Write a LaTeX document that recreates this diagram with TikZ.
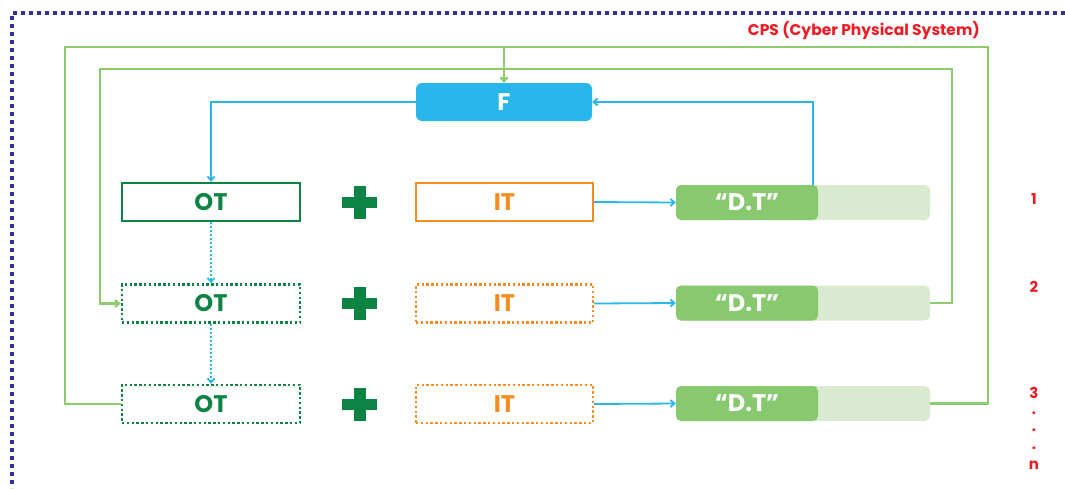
\documentclass[tikz,border=0pt]{standalone}
\usepackage{fontspec}
\setmainfont{Poppins}
\usepackage{tikz}
\usetikzlibrary{%
  arrows.meta,
  positioning
}
\definecolor{framenavy}{HTML}{2E3192}
\definecolor{cpsred}{HTML}{ED1C24}
\definecolor{otgreen}{HTML}{0D8443}
\definecolor{loopgreen}{HTML}{8CCB6E}
\definecolor{dtgreen}{HTML}{88C86F}
\definecolor{dtlight}{HTML}{D9EAD0}
\definecolor{fblue}{HTML}{29B6EA}
\definecolor{itorange}{HTML}{F68B1F}
\tikzset{
  every node/.style={inner sep=0pt, font=\fontsize{24}{24}\selectfont\bfseries},
  otbox/.style={draw=otgreen, line width=2.4pt, text=otgreen,
    minimum width=178, minimum height=38},
  itbox/.style={draw=itorange, line width=2.2pt, text=itorange,
    minimum width=177, minimum height=38},
  ghost/.style={dash pattern=on 2.4pt off 2.4pt},
  dtback/.style={fill=dtlight, rounded corners=5pt,
    minimum width=254, minimum height=35},
  dtfront/.style={fill=dtgreen, rounded corners=5pt, text=white,
    minimum width=142, minimum height=35},
  plusmark/.style={minimum width=35, minimum height=33,
    path picture={
      \fill [otgreen] ([xshift=-6pt]path picture bounding box.north)
        rectangle ([xshift=6pt]path picture bounding box.south);
      \fill [otgreen] ([yshift=-5.5pt]path picture bounding box.west)
        rectangle ([yshift=5.5pt]path picture bounding box.east);
    }},
  rowlabel/.style={text=cpsred, font=\fontsize{15}{15}\selectfont\bfseries},
}
\begin{document}
\begin{tikzpicture}[x=1pt, y=-1pt, >={Straight Barb[length=4pt, width=7pt]}]
    \useasboundingbox (0,0) rectangle (1065,488);

    % frame of the CPS
    \draw [framenavy, line width=4pt, dash pattern=on 4pt off 4pt]
          (1065, 13) -- ( 12, 13) -- ( 12, 488) ;
    \node (cps) [anchor=east, text=cpsred,
                 font=\fontsize{15.5}{15.5}\selectfont\bfseries]
          at (980, 30) {CPS (Cyber Physical System)} ;

    \node (f) [fill=fblue, rounded corners=6pt, text=white,
               minimum width=176, minimum height=38] at (504, 102) {F} ;

    \node (ot1) [otbox] at (211, 202.0) {OT} ;
    \node (ot2) [otbox, ghost] at (211, 303.5) {OT} ;
    \node (ot3) [otbox, ghost] at (211, 404.0) {OT} ;

    \node (plus1) [plusmark] at (359.5, 202.0) {} ;
    \node (plus2) [plusmark] at (359.5, 303.5) {} ;
    \node (plus3) [plusmark] at (359.5, 404.0) {} ;

    \node (it1) [itbox] at (504.5, 202.0) {IT} ;
    \node (it2) [itbox, ghost] at (504.5, 303.5) {IT} ;
    \node (it3) [itbox, ghost] at (504.5, 404.0) {IT} ;

    \foreach \row/\y in {1/202.5, 2/303.0, 3/403.5} {
      \node (dtbg\row) [dtback] at (803, \y) {} ;
      \node (dt\row) [dtfront] at (747, \y) {“D.T”} ;
    }

    \node (n1) [rowlabel] at (1034, 199) {1} ;
    \node (n2) [rowlabel] at (1034, 287) {2} ;
    \node (n3) [rowlabel] at (1034, 393) {3} ;
    \node (d1) [rowlabel] at (1034, 413) {.} ;
    \node (d2) [rowlabel] at (1034, 430) {.} ;
    \node (d3) [rowlabel] at (1034, 448) {.} ;
    \node (nn) [rowlabel] at (1034, 465) {n} ;

    % feedback loops
    \coordinate (outerNE) at (988, 47) ;
    \coordinate (outerNW) at ( 65, 47) ;
    \coordinate (innerNE) at (952, 69) ;
    \coordinate (innerNW) at (100, 69) ;
    \coordinate (ftop)    at (504, 47) ;
    \begin{scope}[loopgreen, line width=2.2pt]
      \draw (dtbg3.east) -| (outerNE) -- (outerNW) |- (ot3.west) ;
      \draw [->] (dtbg2.east) -| (innerNE) -- (innerNW) |- (ot2.west) ;
      \draw [->] (ftop) -- (f.north) ;
    \end{scope}

    \begin{scope}[fblue, line width=1.8pt]
      \draw [->] (f.west) -| (ot1.north) ;
      \draw [->] ([xshift=-5pt]dt1.north east) |- (f.east) ;
      \foreach \row in {1,2,3} {
        \draw [->] (it\row.east) -- (dt\row.west) ;
      }
      \draw [->, dash pattern=on 2pt off 2pt] (ot1.south) -- (ot2.north) ;
      \draw [->, dash pattern=on 2pt off 2pt] (ot2.south) -- (ot3.north) ;
    \end{scope}
  \end{tikzpicture}
\end{document}
